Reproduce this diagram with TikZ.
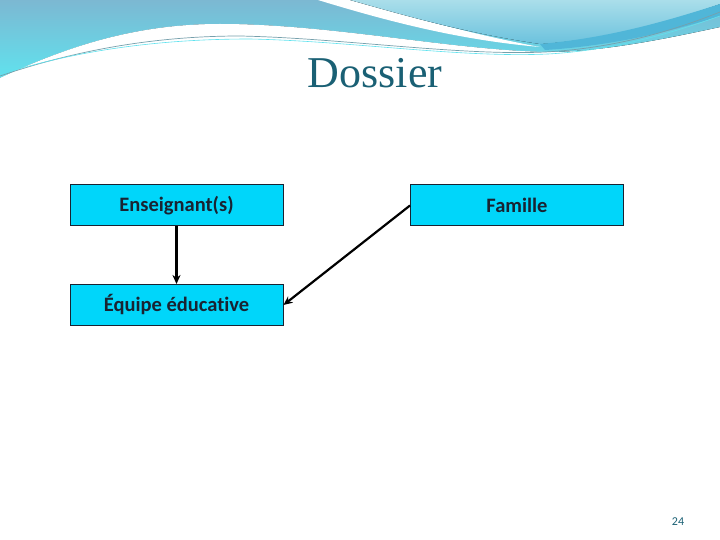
\documentclass[tikz,border=0pt]{standalone}
\usepackage{fontspec}
\setmainfont{Liberation Serif}
\newfontfamily\boxfont[Ligatures=NoCommon]{Carlito}
\usetikzlibrary{arrows.meta}

\definecolor{boxcyan}{RGB}{0,214,250}
\definecolor{boxline}{RGB}{25,35,50}
\definecolor{titleteal}{RGB}{26,96,116}
\definecolor{waveblue}{RGB}{124,184,210}
\definecolor{wavecyan}{RGB}{96,226,238}
\definecolor{wavelight}{RGB}{170,222,234}
\definecolor{wavemid}{RGB}{80,182,216}

\tikzset{
	blockbox/.style={draw=boxline, fill=boxcyan, line width=1pt, minimum width=213pt, minimum height=41pt, inner sep=0pt, font=\boxfont\bfseries\fontsize{20.5}{24}\selectfont, text=boxline},
	link/.style={-{Stealth[length=9pt, width=8pt]}, line width=2.2pt, black}
}

\begin{document}
\begin{tikzpicture}[x=1pt, y=-1pt]
				\useasboundingbox (0,0) rectangle (720,540);
				% top waves
				\fill[top color=waveblue, bottom color=wavecyan] (0,0) -- (720,0) -- (720,27) .. controls (660,40) and (600,52) .. (545,52) .. controls (450,50) and (330,24) .. (220,24) .. controls (130,24) and (60,50) .. (0,78) -- cycle;
				\fill[white] (318,0) .. controls (390,22) and (460,40) .. (540,47) .. controls (470,34) and (400,14) .. (350,0) -- cycle;
				\fill[top color=wavelight, bottom color=wavemid!70!wavelight] (350,0) -- (720,0) -- (720,4) .. controls (660,25) and (600,40) .. (540,44) .. controls (460,32) and (400,14) .. (350,0) -- cycle;
				\fill[wavemid] (540,44) .. controls (610,38) and (670,20) .. (720,4) -- (720,16) .. controls (670,32) and (610,46) .. (545,50) -- cycle;
				\fill[white] (0,78) .. controls (60,50) and (130,24) .. (220,24) .. controls (330,24) and (450,50) .. (545,52) .. controls (470,56) and (330,38) .. (230,36) .. controls (140,34) and (60,60) .. (0,80) -- cycle;
				\draw[titleteal!60, line width=0.7pt] (0,76) .. controls (70,52) and (150,36) .. (240,36) .. controls (340,38) and (460,56) .. (545,52) .. controls (620,48) and (680,28) .. (720,12);
				\draw[wavecyan, line width=0.6pt] (5,73) .. controls (80,50) and (160,39) .. (250,39) .. controls (350,41) and (460,58) .. (548,54) .. controls (620,50) and (680,30) .. (720,16);
				% title
				\node[text=titleteal, font=\fontsize{44}{48}\selectfont] (title) at (375,73) {Dossier};
				% boxes
				\node[blockbox] (ens) at (176.5,205.5) {Enseignant(s)};
				\node[blockbox] (fam) at (517,205.5) {Famille};
				\node[blockbox] (equ) at (176.5,305) {Équipe éducative};
				\draw[link] (ens.south) -- (equ.north);
				\draw[link] (fam.west) -- (equ.east);
				% page number
				\node[text=titleteal, font=\boxfont\fontsize{12}{14}\selectfont] (page) at (678,522) {24};
			\end{tikzpicture}
\end{document}
